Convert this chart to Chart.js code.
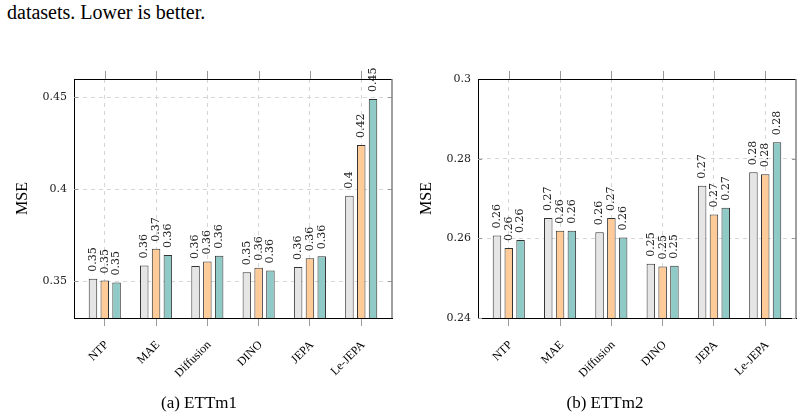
<!DOCTYPE html>
<html>
<head>
<meta charset="utf-8">
<script src="https://cdn.jsdelivr.net/npm/chart.js@4.4.0/dist/chart.umd.min.js"></script>
<style>
html, body { margin: 0; padding: 0; background: #fff; width: 803px; height: 417px; overflow: hidden; }
.note { position: absolute; left: 7px; top: 1px; font: 20px "Liberation Serif", serif; color: #000; white-space: nowrap; }
.box { position: absolute; top: 0; width: 400px; height: 417px; }
.cap { position: absolute; top: 393px; font: 17px "Liberation Serif", serif; color: #000; transform: translateX(-50%); white-space: nowrap; }
</style>
</head>
<body>
<div class="note">datasets. Lower is better.</div>
<div class="box" style="left:0"><canvas id="c1" width="400" height="417"></canvas></div>
<div class="box" style="left:404px"><canvas id="c2" width="400" height="417"></canvas></div>
<div class="cap" style="left:199px">(a) ETTm1</div>
<div class="cap" style="left:605px">(b) ETTm2</div>
<script>
const methods = ['NTP', 'MAE', 'Diffusion', 'DINO', 'JEPA', 'Le-JEPA']

// MSE per method, three bars each (gray / orange / teal)
const ettm1Gray   = [0.3513, 0.3585, 0.3583, 0.3549, 0.3578, 0.3965]
const ettm1Orange = [0.3504, 0.3677, 0.3608, 0.3573, 0.3625, 0.4241]
const ettm1Teal   = [0.3493, 0.3643, 0.3638, 0.3558, 0.3636, 0.4491]

const ettm2Gray   = [0.2607, 0.2651, 0.2615, 0.2536, 0.2732, 0.2766]
const ettm2Orange = [0.2576, 0.2619, 0.2651, 0.2529, 0.2660, 0.2761]
const ettm2Teal   = [0.2596, 0.2619, 0.2602, 0.2531, 0.2677, 0.2841]

const yTicks1 = [0.35, 0.4, 0.45]
const yTicks2 = [0.24, 0.26, 0.28, 0.3]

const barColors = ['#e5e5e5', '#ffcc99', '#8fcac6']
const gridColor = '#d6d6d6'
const tickColor = '#9a9a9a'

// value labels above bars + box frame and extra tick marks (pgfplots look)
const framePlugin = {
	id: 'frame',
	afterDatasetsDraw(chart) {
		const ctx = chart.ctx
		ctx.save()
		ctx.font = '11px "DejaVu Serif"'
		ctx.fillStyle = '#222'
		ctx.textAlign = 'left'
		ctx.textBaseline = 'middle'
		chart.data.datasets.forEach((ds, i) => {
			chart.getDatasetMeta(i).data.forEach((bar, j) => {
				const txt = String(Number(ds.data[j].y.toFixed(2)))
				ctx.save()
				ctx.translate(bar.x, bar.y - 7)
				ctx.rotate(-Math.PI / 2)
				ctx.fillText(txt, 0, 0)
				ctx.restore()
			})
		})
		ctx.restore()
	},
	afterDraw(chart) {
		const ctx = chart.ctx
		const a = chart.chartArea
		const xs = chart.scales.x
		const ys = chart.scales.y
		ctx.save()
		ctx.strokeStyle = tickColor
		ctx.lineWidth = 1
		xs.ticks.forEach(t => {
			const px = Math.round(xs.getPixelForValue(t.value)) + 0.5
			ctx.beginPath()
			ctx.moveTo(px, a.top - 8)
			ctx.lineTo(px, a.top)
			ctx.stroke()
		})
		ys.ticks.forEach(t => {
			const py = Math.round(ys.getPixelForValue(t.value)) + 0.5
			ctx.beginPath()
			ctx.moveTo(a.left, py)
			ctx.lineTo(a.left + 4, py)
			ctx.moveTo(a.right - 4, py)
			ctx.lineTo(a.right, py)
			ctx.stroke()
		})
		ctx.strokeStyle = '#000'
		ctx.beginPath()
		ctx.moveTo(a.left, Math.round(a.top) + 0.5)
		ctx.lineTo(a.right, Math.round(a.top) + 0.5)
		ctx.stroke()
		ctx.strokeStyle = '#808080'
		ctx.lineWidth = 1.5
		ctx.beginPath()
		ctx.moveTo(a.right, a.top)
		ctx.lineTo(a.right, a.bottom)
		ctx.stroke()
		ctx.restore()
	}
}

function makeChart(id, gray, orange, teal, yTicks, yMin, yMax) {
	const series = [gray, orange, teal]
	return new Chart(document.getElementById(id), {
		type: 'bar',
		data: {
			datasets: series.map((vals, k) => ({
				data: vals.map((v, i) => ({ x: i, y: v })),
				backgroundColor: barColors[k],
				borderColor: '#333',
				borderWidth: 1,
				categoryPercentage: 0.69,
				barPercentage: 0.72
			}))
		},
		options: {
			responsive: false,
			animation: false,
			layout: { padding: { top: 79, right: 8, bottom: 39, left: 0 } },
			plugins: { legend: { display: false }, tooltip: { enabled: false } },
			scales: {
				x: {
					type: 'linear',
					offset: false,
					min: -0.6,
					max: 5.6,
					afterBuildTicks: s => { s.ticks = methods.map((m, i) => ({ value: i })) },
					afterFit: s => { s.height = 60 },
					ticks: {
						autoSkip: false,
						minRotation: 45,
						maxRotation: 45,
						padding: 12,
						labelOffset: 2,
						color: '#000',
						font: { family: 'Liberation Serif', size: 12 },
						callback: v => methods[v]
					},
					grid: { offset: false, color: gridColor, tickColor: tickColor, tickLength: 8, tickBorderDash: [] },
					border: { color: '#000', width: 1, dash: [4, 4] }
				},
				y: {
					min: yMin,
					max: yMax,
					afterBuildTicks: s => { s.ticks = yTicks.map(v => ({ value: v })) },
					afterFit: s => { s.width = 74 },
					ticks: {
						padding: 7,
						color: '#222',
						font: { family: 'DejaVu Serif', size: 11 },
						callback: v => String(v)
					},
					grid: { color: gridColor, drawTicks: false },
					border: { color: '#000', width: 1, dash: [4, 4] },
					title: {
						display: true,
						text: 'MSE',
						color: '#000',
						font: { family: 'Liberation Serif', size: 16 },
						padding: { top: 13, bottom: 0 }
					}
				}
			}
		},
		plugins: [framePlugin]
	})
}

makeChart('c1', ettm1Gray, ettm1Orange, ettm1Teal, yTicks1, 0.33, 0.46)
makeChart('c2', ettm2Gray, ettm2Orange, ettm2Teal, yTicks2, 0.24, 0.3)
</script>
</body>
</html>
